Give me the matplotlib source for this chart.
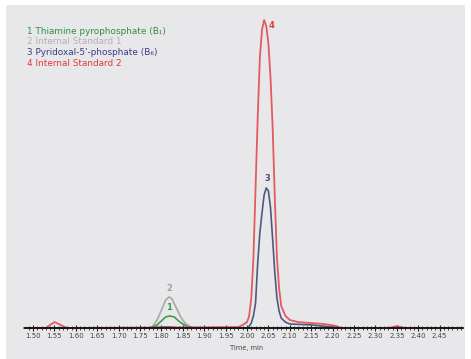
import matplotlib
matplotlib.use('Agg')
import matplotlib.pyplot as plt
from matplotlib.patches import Rectangle
from matplotlib.ticker import MultipleLocator, FixedLocator, FormatStrFormatter

# retention time (min) and relative response (%)
t_red = [1.48, 1.53, 1.54, 1.55, 1.56, 1.57, 1.58, 1.98, 1.99, 2.00, 2.005, 2.01, 2.015, 2.02,
         2.025, 2.03, 2.035, 2.04, 2.045, 2.05, 2.055, 2.06, 2.065, 2.07, 2.075, 2.08, 2.09,
         2.10, 2.12, 2.15, 2.18, 2.21, 2.22, 2.33, 2.35, 2.37, 2.50]
y_red = [0, 0, 1.0, 1.9, 1.3, 0.6, 0, 0.3, 1.0, 1.9, 3.9, 9.7, 22.7, 45.5,
         68.2, 87.7, 96.8, 100, 98.1, 92.5, 81.2, 64.9, 42.2, 22.7, 13.0, 7.1, 3.9,
         2.6, 1.9, 1.6, 1.3, 0.6, 0, 0, 0.6, 0, 0]

t_blue = [1.48, 1.78, 1.80, 1.82, 1.84, 2.00, 2.005, 2.01, 2.015, 2.02, 2.025, 2.03, 2.035,
          2.04, 2.045, 2.05, 2.055, 2.06, 2.065, 2.07, 2.075, 2.08, 2.09, 2.10, 2.15, 2.20,
          2.22, 2.50]
y_blue = [0, 0, 0.3, 0.3, 0, 0, 0.6, 1.6, 3.9, 8.1, 21.1, 30.8, 37.3,
          43.2, 45.5, 44.5, 39.0, 28.6, 17.9, 9.7, 5.5, 3.2, 1.9, 1.3, 1.0, 0.3,
          0, 0]

t_gray = [1.48, 1.77, 1.78, 1.79, 1.80, 1.81, 1.818, 1.825, 1.835, 1.845, 1.855, 1.865, 1.875, 2.50]
y_gray = [0, 0, 0.6, 2.6, 5.8, 9.1, 10.1, 9.4, 6.5, 3.6, 1.6, 0.6, 0, 0]

t_green = [1.48, 1.775, 1.79, 1.80, 1.81, 1.82, 1.83, 1.84, 1.85, 1.86, 1.875, 2.50]
y_green = [0, 0, 1.0, 2.3, 3.6, 3.9, 3.6, 2.3, 1.3, 0.5, 0, 0]

legend_txt = ['1 Thiamine pyrophosphate (B\u2081)', '2 Internal Standard 1',
              "3 Pyridoxal-5'-phosphate (B\u2086)", '4 Internal Standard 2']
peak_lbl = ['1', '2', '3', '4']
peak_t = [1.818, 1.818, 2.047, 2.058]
peak_y = [6.8, 12.7, 48.7, 98.4]

c_green = '#3f9c4c'
c_gray = '#a8a8ac'
c_blue = '#4d5a80'
c_red = '#e2414a'
txt_cols = ['#2f8f3e', '#b2b2b6', '#3b3b86', '#e03a3a']
peak_cols = ['#3f9c4c', '#a0a0a4', '#4a4a80', '#e03a3a']

fam = ['DejaVu Sans']

W, H = 471, 359
fig = plt.figure(figsize=(W / 100, H / 100), dpi=100, facecolor='white')
fig.patches.append(Rectangle((6 / W, 0), 459 / W, (H - 5) / H, transform=fig.transFigure,
                             facecolor='#e8e8ea', edgecolor='none', zorder=-5))

ax = fig.add_axes([25 / W, 31 / H, 438 / W, 323 / H])
ax.set_zorder(2)
ax.set_facecolor('none')
ax.set_xlim(1.4813, 2.5047)
ax.set_ylim(0, 104.9)

ax.plot(t_green, y_green, color=c_green, lw=1.2, clip_on=False, zorder=3)
ax.plot(t_gray, y_gray, color=c_gray, lw=1.2, clip_on=False, zorder=2)
ax.plot(t_blue, y_blue, color=c_blue, lw=1.2, clip_on=False, zorder=4)
ax.plot(t_red, y_red, color=c_red, lw=1.3, alpha=0.85, clip_on=False, zorder=5)

for lbl, tx, ty, c in zip(peak_lbl, peak_t, peak_y, peak_cols):
    ax.text(tx, ty, lbl, color=c, fontsize=6, ha='center', va='center',
            family=fam, fontweight='bold')

for i, (s, c) in enumerate(zip(legend_txt, txt_cols)):
    fig.text(27 / W, 1 - (31 + i * 10.7) / H, s, color=c, fontsize=6.4, family=fam,
             ha='left', va='center')

for side in ['top', 'right', 'left']:
    ax.spines[side].set_visible(False)
ax.spines['bottom'].set_color('#111111')
ax.spines['bottom'].set_linewidth(1.3)
ax.spines['bottom'].set_zorder(6)
ax.set_yticks([])

ax.xaxis.set_major_locator(FixedLocator([1.50 + 0.05 * i for i in range(20)]))
ax.xaxis.set_major_formatter(FormatStrFormatter('%.2f'))
ax.xaxis.set_minor_locator(MultipleLocator(0.01))
ax.tick_params(axis='x', which='major', direction='inout', length=5, width=0.8,
               color='#222222', labelsize=5, labelcolor='#444444', pad=1)
ax.tick_params(axis='x', which='minor', direction='inout', length=3, width=0.6,
               color='#222222')

fig.text(230 / W, 1 - 348 / H, 'Time, min', fontsize=4.8, color='#444444',
         family=fam, ha='left', va='center')

fig.savefig('out.png', dpi=100, facecolor='white')
